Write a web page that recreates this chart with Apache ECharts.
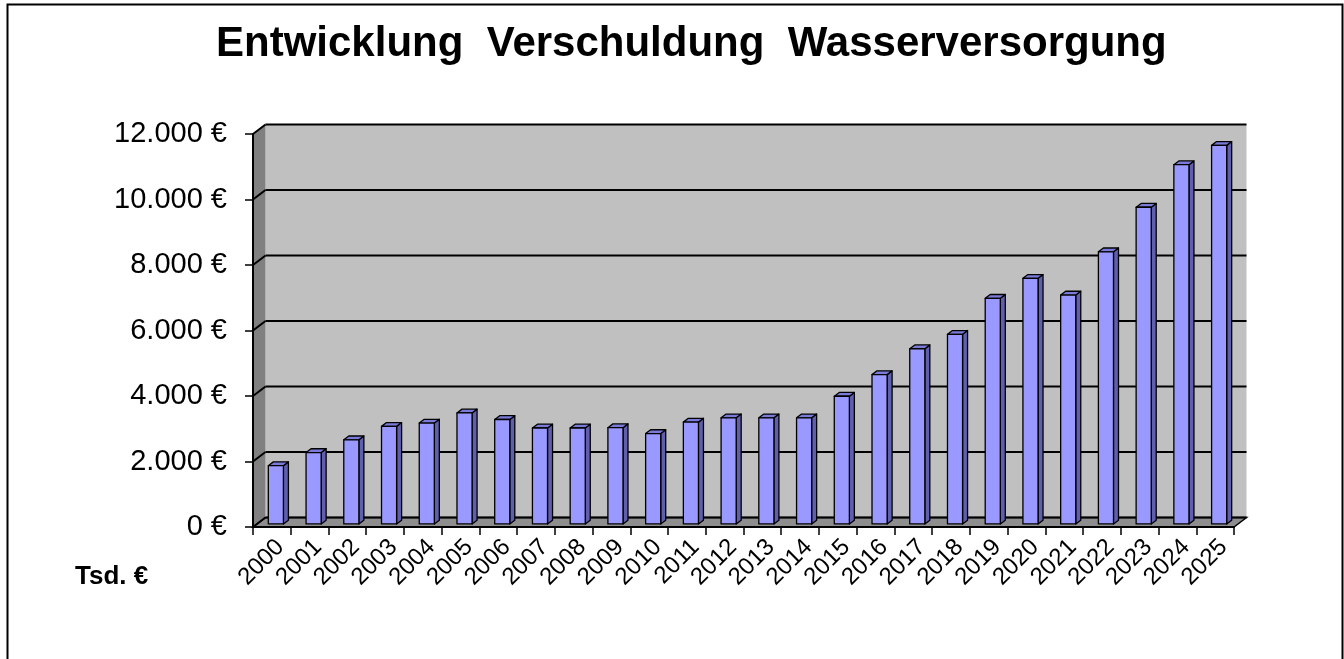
<!DOCTYPE html>
<html>
<head>
<meta charset="utf-8">
<script src="https://cdn.jsdelivr.net/npm/echarts@6/dist/echarts.min.js"></script>
<style>
html,body{margin:0;padding:0;background:#fff;}
#chart{width:1344px;height:659px;}
</style>
</head>
<body>
<div id="chart"></div>
<script>
const titleText = 'Entwicklung  Verschuldung  Wasserversorgung';
const unitLabel = 'Tsd. €';
const categories = ['2000','2001','2002','2003','2004','2005','2006','2007','2008','2009','2010','2011','2012','2013','2014','2015','2016','2017','2018','2019','2020','2021','2022','2023','2024','2025'];
const debt = [1780, 2180, 2570, 2980, 3080, 3390, 3190, 2930, 2930, 2940, 2760, 3110, 3240, 3240, 3240, 3900, 4560, 5350, 5790, 6890, 7500, 6990, 8310, 9670, 10970, 11560];
const yTicks = [0, 2000, 4000, 6000, 8000, 10000, 12000];
const yTickLabels = ['0 €', '2.000 €', '4.000 €', '6.000 €', '8.000 €', '10.000 €', '12.000 €'];

const FONT = '"Liberation Sans", Arial, sans-serif';
const DX = 12.5, DY = -9.5;      // depth vector front -> back wall
const FACE = 0.32, DEPTH = 0.4, BARW = 0.4;

const chart = echarts.init(document.getElementById('chart'), null, {renderer: 'canvas'});

function wallItem(params, api) {
  const cs = params.coordSys;
  const L = cs.x, R = cs.x + cs.width;
  const yB = api.coord([0, 0])[1];
  const yT = api.coord([0, 12000])[1];
  return {
    type: 'group',
    children: [
      {type: 'rect', shape: {x: L + DX, y: yT + DY, width: R - L, height: yB - yT},
       style: {fill: '#c0c0c0'}},
      {type: 'polygon', shape: {points: [[L, yT], [L + DX, yT + DY], [L + DX, yB + DY], [L, yB]]},
       style: {fill: '#808080'}},
      {type: 'polygon', shape: {points: [[L, yB], [L + DX, yB + DY], [R + DX, yB + DY], [R, yB]]},
       style: {fill: '#8e8e8e', stroke: '#000', lineWidth: 1.5}}
    ]
  };
}

function gridItem(params, api) {
  const cs = params.coordSys;
  const L = cs.x, R = cs.x + cs.width;
  const y = api.coord([0, api.value(1)])[1];
  return {
    type: 'group',
    children: [
      {type: 'line', shape: {x1: L + DX, y1: y + DY, x2: R + DX, y2: y + DY},
       style: {stroke: '#000', lineWidth: 2}},
      {type: 'line', shape: {x1: L, y1: y, x2: L + DX, y2: y + DY},
       style: {stroke: '#000', lineWidth: 2}}
    ]
  };
}

function barItem(params, api) {
  const i = api.value(0), v = api.value(1);
  const bw = api.size([1, 0])[0];
  const base = api.coord([i, 0]);
  const top = api.coord([i, v]);
  const cx = base[0] + FACE * DX;
  const w = bw * BARW;
  const x0 = cx - w / 2, x1 = cx + w / 2;
  const yb = base[1] + FACE * DY, yt = top[1] + FACE * DY;
  const ddx = DEPTH * DX, ddy = DEPTH * DY;
  const st = {stroke: '#000', lineWidth: 1.3, lineJoin: 'round'};
  return {
    type: 'group',
    children: [
      {type: 'polygon', shape: {points: [[x1, yt], [x1 + ddx, yt + ddy], [x1 + ddx, yb + ddy], [x1, yb]]},
       style: Object.assign({fill: '#5f5fae'}, st)},
      {type: 'polygon', shape: {points: [[x0, yt], [x0 + ddx, yt + ddy], [x1 + ddx, yt + ddy], [x1, yt]]},
       style: Object.assign({fill: '#7a7ad8'}, st)},
      {type: 'rect', shape: {x: x0, y: yt, width: w, height: yb - yt},
       style: Object.assign({fill: '#9999ff'}, st)}
    ]
  };
}

const option = {
  backgroundColor: '#ffffff',
  animation: false,
  title: {
    text: titleText,
    left: 211,
    top: 18,
    textStyle: {fontFamily: FONT, fontSize: 42, fontWeight: 'bold', color: '#000'}
  },
  grid: {left: 253, right: 110, top: 134, bottom: 132, containLabel: false},
  xAxis: {
    type: 'category',
    data: categories,
    z: 10,
    axisLine: {show: true, lineStyle: {color: '#000', width: 2}},
    axisTick: {show: true, length: 8, lineStyle: {color: '#000', width: 1.5}},
    axisLabel: {rotate: 45, fontFamily: FONT, fontSize: 24, color: '#000', margin: 8,
                interval: 0, verticalAlign: 'top'},
    splitLine: {show: false}
  },
  yAxis: {
    type: 'value',
    min: 0, max: 12000, interval: 2000,
    z: 10,
    axisLine: {show: true, lineStyle: {color: '#000', width: 2}},
    axisTick: {show: true, length: 8, lineStyle: {color: '#000', width: 1.5}},
    axisLabel: {
      fontFamily: FONT, fontSize: 29, color: '#000', margin: 26,
      formatter: function (v) { const k = yTicks.indexOf(v); return k >= 0 ? yTickLabels[k] : ''; }
    },
    splitLine: {show: false}
  },
  graphic: [
    {type: 'rect', left: 5, top: 2, shape: {width: 1335, height: 720}, z: 0,
     style: {fill: 'none', stroke: '#000', lineWidth: 2}},
    {type: 'text', left: 75, top: 564, z: 10,
     style: {text: unitLabel, fontFamily: FONT, fontSize: 26, fontWeight: 'bold', fill: '#000'}}
  ],
  series: [
    {type: 'custom', name: 'wall', clip: false, z: 1, silent: true,
     renderItem: wallItem, data: [[0, 0]]},
    {type: 'custom', name: 'gridlines', clip: false, z: 2, silent: true,
     renderItem: gridItem, data: yTicks.map(v => [0, v])},
    {type: 'custom', name: 'Verschuldung', clip: false, z: 3,
     renderItem: barItem, data: debt.map((v, i) => [i, v])}
  ]
};
chart.setOption(option);
</script>
</body>
</html>
